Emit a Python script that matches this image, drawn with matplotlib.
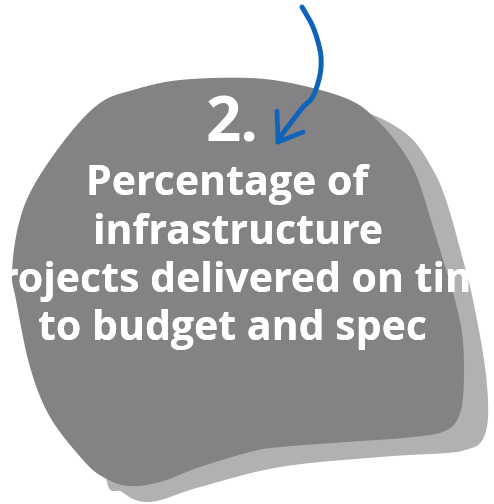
import numpy as np
import matplotlib
matplotlib.use("Agg")
import matplotlib.pyplot as plt
from matplotlib.patches import PathPatch
from matplotlib.path import Path

# outline of the front (dark) blob, pixel coords (y down)
dark_x = [250, 300, 350, 377, 400, 417, 433, 447, 455, 462, 464, 461, 447, 413,
          347, 280, 250, 200, 160, 128, 103, 83, 50, 30, 16, 12, 18, 33, 67, 100, 133, 180]
dark_y = [78, 85, 100, 120, 147, 177, 227, 273, 300, 333, 370, 410, 430, 437,
          442, 447, 452, 467, 482, 486, 477, 460, 417, 367, 300, 273, 227, 187, 137, 103, 90, 80]

# outline of the back (light) blob
light_x = [335, 373, 410, 433, 447, 463, 473, 485, 488, 481, 465, 447, 380,
           280, 200, 150, 122, 105, 100, 200]
light_y = [108, 115, 137, 170, 203, 260, 300, 367, 417, 442, 450, 453, 457,
           467, 487, 502, 492, 470, 300, 110]

# arrow path
arrow_x = [302, 313, 320, 321, 318, 312, 303, 293, 283, 278]
arrow_y = [7, 27, 50, 67, 83, 98, 107, 120, 133, 142]

number = "2."
lines = ["Percentage of", "infrastructure", "projects delivered on time", "to budget and spec"]
line_x = [227, 237.5, 242, 232]
line_y = [195, 244, 292, 340]

DARK = "#838385"
LIGHT = "#b1b1b3"
BLUE = "#0f64b9"


def closed_spline(xs, ys, n=20):
    pts = np.column_stack([xs, ys]).astype(float)
    m = len(pts)
    out = []
    for i in range(m):
        p0, p1, p2, p3 = pts[(i - 1) % m], pts[i], pts[(i + 1) % m], pts[(i + 2) % m]
        for t in np.linspace(0, 1, n, endpoint=False):
            t2, t3 = t * t, t * t * t
            out.append(0.5 * ((2 * p1) + (-p0 + p2) * t + (2 * p0 - 5 * p1 + 4 * p2 - p3) * t2
                              + (-p0 + 3 * p1 - 3 * p2 + p3) * t3))
    out.append(out[0])
    return np.array(out)


def open_spline(xs, ys, n=20):
    pts = np.column_stack([xs, ys]).astype(float)
    pts = np.vstack([2 * pts[0] - pts[1], pts, 2 * pts[-1] - pts[-2]])
    out = []
    for i in range(1, len(pts) - 2):
        p0, p1, p2, p3 = pts[i - 1], pts[i], pts[i + 1], pts[i + 2]
        for t in np.linspace(0, 1, n, endpoint=False):
            t2, t3 = t * t, t * t * t
            out.append(0.5 * ((2 * p1) + (-p0 + p2) * t + (2 * p0 - 5 * p1 + 4 * p2 - p3) * t2
                              + (-p0 + 3 * p1 - 3 * p2 + p3) * t3))
    out.append(pts[-2])
    return np.array(out)


fig = plt.figure(figsize=(4.94, 5.04), dpi=100)
ax = fig.add_axes([0, 0, 1, 1])
ax.set_xlim(0, 494)
ax.set_ylim(504, 0)
ax.axis("off")

light_patch = PathPatch(Path(closed_spline(light_x, light_y)), facecolor=LIGHT, edgecolor="none", zorder=1)
dark_patch = PathPatch(Path(closed_spline(dark_x, dark_y)), facecolor=DARK, edgecolor="none", zorder=2)
ax.add_patch(light_patch)
ax.add_patch(dark_patch)

# number
ax.text(232.5, 142, number, ha="center", va="baseline", color="white",
        fontsize=44.5, fontweight="bold", family="Open Sans", zorder=3)

# title lines, clipped to the blobs
for s, x, y in zip(lines, line_x, line_y):
    for patch in (dark_patch, light_patch):
        t = ax.text(x, y, s, ha="center", va="baseline", color="white",
                    fontsize=29.5, fontweight="bold", family="Open Sans", zorder=3)
        t.set_clip_path(patch)

# arrow
shaft = open_spline(arrow_x, arrow_y)
ax.plot(shaft[:, 0], shaft[:, 1], color=BLUE, lw=3.6, solid_capstyle="round", zorder=4)
tip = (arrow_x[-1], arrow_y[-1])
ax.plot([tip[0], tip[0] - 1], [tip[1], tip[1] - 31], color=BLUE, lw=3.4, solid_capstyle="round", zorder=4)
ax.plot([tip[0], tip[0] + 25], [tip[1], tip[1] - 10], color=BLUE, lw=3.4, solid_capstyle="round", zorder=4)

fig.savefig("out.png", dpi=100)
